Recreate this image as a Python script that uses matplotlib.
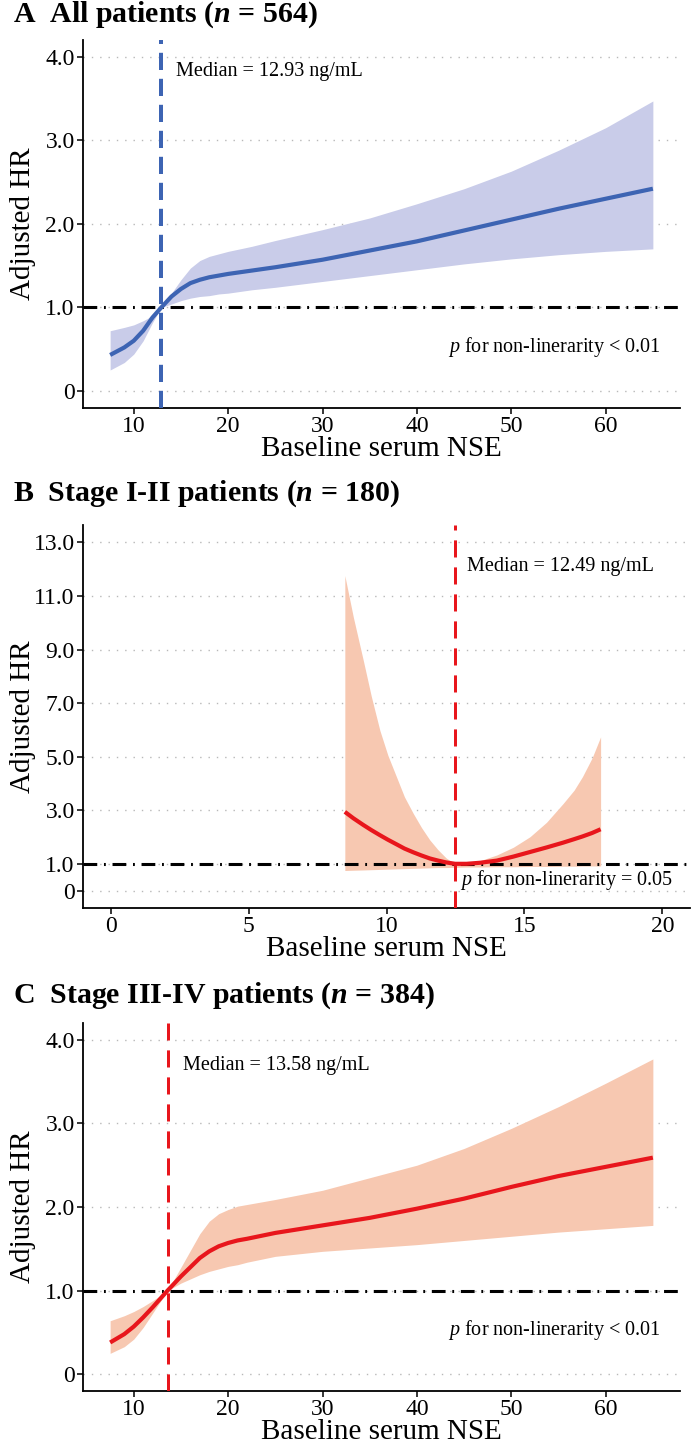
import matplotlib
matplotlib.use("Agg")
import matplotlib.pyplot as plt

plt.rcParams["font.family"] = ["Liberation Serif", "DejaVu Serif"]
plt.rcParams["mathtext.fontset"] = "custom"
plt.rcParams["mathtext.rm"] = "Liberation Serif"
plt.rcParams["mathtext.it"] = "Liberation Serif:italic"
plt.rcParams["mathtext.bf"] = "Liberation Serif:bold"
plt.rcParams["mathtext.bfit"] = "Liberation Serif:italic:bold"

# ---- data ----
# A: all patients
a_x = [7.5, 9, 10, 11, 11.5, 12, 12.93, 14, 15, 16, 17, 18, 19, 20, 22.5, 25, 30, 35, 40, 45, 50, 55, 60, 65]
a_est = [0.43, 0.52, 0.60, 0.72, 0.80, 0.88, 1.0, 1.13, 1.22, 1.29, 1.33, 1.36, 1.38, 1.40, 1.44, 1.48,
         1.57, 1.68, 1.79, 1.92, 2.05, 2.18, 2.30, 2.42]
a_lo = [0.25, 0.34, 0.44, 0.60, 0.71, 0.82, 1.0, 1.04, 1.08, 1.11, 1.13, 1.14, 1.16, 1.17, 1.21, 1.24,
        1.31, 1.38, 1.45, 1.52, 1.58, 1.63, 1.67, 1.70]
a_hi = [0.72, 0.76, 0.79, 0.84, 0.87, 0.92, 1.0, 1.17, 1.33, 1.47, 1.56, 1.61, 1.64, 1.67, 1.73, 1.80,
        1.93, 2.07, 2.24, 2.42, 2.63, 2.88, 3.15, 3.47]

# B: stage I-II
b_x = [8.49, 8.8, 9.16, 9.45, 9.76, 10.05, 10.36, 10.65, 10.97, 11.27, 11.57, 11.87, 12.17, 12.49,
       12.9, 13.4, 14.0, 14.6, 15.2, 15.8, 16.4, 16.8, 17.1, 17.45, 17.76]
b_est = [2.94, 2.70, 2.45, 2.26, 2.07, 1.90, 1.73, 1.57, 1.43, 1.31, 1.20, 1.12, 1.05, 1.0,
         1.0, 1.04, 1.12, 1.27, 1.44, 1.61, 1.79, 1.92, 2.02, 2.15, 2.29]
b_lo = [0.75, 0.76, 0.77, 0.78, 0.79, 0.80, 0.81, 0.82, 0.83, 0.84, 0.85, 0.86, 0.86, 0.87,
        0.88, 0.88, 0.89, 0.89, 0.90, 0.90, 0.91, 0.91, 0.92, 0.92, 0.92]
b_hi = [11.76, 10.2, 8.59, 7.25, 5.98, 5.05, 4.25, 3.50, 2.88, 2.35, 1.89, 1.52, 1.21, 1.0,
        1.04, 1.12, 1.33, 1.62, 2.01, 2.55, 3.25, 3.75, 4.25, 4.95, 5.74]

# C: stage III-IV
c_x = [7.5, 9, 10, 11, 12, 13.58, 15, 16, 17, 18, 19, 20, 21, 22, 25, 30, 35, 40, 45, 50, 55, 60, 65]
c_est = [0.38, 0.48, 0.57, 0.68, 0.80, 1.0, 1.17, 1.28, 1.39, 1.47, 1.53, 1.57, 1.60, 1.62, 1.69, 1.78,
         1.87, 1.98, 2.10, 2.24, 2.37, 2.48, 2.59]
c_lo = [0.25, 0.33, 0.42, 0.56, 0.73, 1.0, 1.09, 1.14, 1.19, 1.23, 1.26, 1.29, 1.31, 1.34, 1.41, 1.47,
        1.51, 1.55, 1.60, 1.65, 1.70, 1.74, 1.78]
c_hi = [0.64, 0.70, 0.75, 0.81, 0.88, 1.0, 1.28, 1.48, 1.68, 1.83, 1.92, 1.97, 2.01, 2.03, 2.09, 2.20,
        2.35, 2.50, 2.70, 2.94, 3.20, 3.48, 3.77]

titles = [r"A  All patients ($\mathbfit{n}$ = 564)",
          r"B  Stage I-II patients ($\mathbfit{n}$ = 180)",
          r"C  Stage III-IV patients ($\mathbfit{n}$ = 384)"]
medians = [12.93, 12.49, 13.58]
p_texts = [r"$p$ for non-linerarity < 0.01",
           r"$p$ for non-linerarity = 0.05",
           r"$p$ for non-linerarity < 0.01"]
yticks_ac = [0, 1, 2, 3, 4]
yticks_b = [0, 1, 3, 5, 7, 9, 11, 13]
xticks_ac = [10, 20, 30, 40, 50, 60]
xticks_b = [0, 5, 10, 15, 20]

BLUE = "#3d64b3"
BLUE_FILL = "#c9cce9"
RED = "#e8161c"
RED_FILL = "#f7c8b1"

W, H = 691, 1444
fig = plt.figure(figsize=(W / 100, H / 100), dpi=100)


def px_axes(left, top, right, bottom):
    return fig.add_axes([left / W, 1 - bottom / H, (right - left) / W, (bottom - top) / H])


def style(ax, top, bottom, xlim, ylim, xticks, yticks):
    ax.set_xlim(*xlim)
    ax.set_ylim(*ylim)
    ax.set_xticks(xticks)
    ax.set_xticklabels([str(t) for t in xticks])
    ax.set_yticks(yticks)
    ax.set_yticklabels(["0" if t == 0 else f"{t:.1f}" for t in yticks])
    for s in ["top", "right"]:
        ax.spines[s].set_visible(False)
    for s in ["left", "bottom"]:
        ax.spines[s].set_linewidth(1.3)
    ax.tick_params(labelsize=17, length=4, width=1.1, pad=2)
    ax.grid(axis="y", color="#b8b8b8", linewidth=1.0, linestyle=(0, (1, 5)))
    ax.set_axisbelow(True)
    ax.set_xlabel("Baseline serum NSE", fontsize=21, va="top")
    ax.set_ylabel("Adjusted HR", fontsize=21, va="center")
    h = bottom - top
    ax.xaxis.set_label_coords(0.5, -28 / h)
    ax.yaxis.set_label_coords(-60 / (ax.get_position().width * W), 0.5)


panels = [
    (a_x, a_est, a_lo, a_hi, BLUE, BLUE_FILL, BLUE, (83, 40, 680, 407.6), (4.625, 67.875), (-0.2, 4.2),
     xticks_ac, yticks_ac, 15, (14.5, 3.82), (65.9, 0.53), 4.0, (4.3, 2.2)),
    (b_x, b_est, b_lo, b_hi, RED, RED_FILL, RED, (83, 525, 690, 908), (-1, 21), (-0.65, 13.65),
     xticks_b, yticks_b, 494, (12.93, 12.1), (20.4, 0.4), 3.0, (5.7, 3.3)),
    (c_x, c_est, c_lo, c_hi, RED, RED_FILL, RED, (83, 1023, 680, 1391), (4.625, 67.875), (-0.2, 4.2),
     xticks_ac, yticks_ac, 996, (15.2, 3.69), (65.9, 0.53), 3.0, (5.7, 3.3)),
]

for i, (x, est, lo, hi, col, fill, mcol, box, xlim, ylim, xt, yt, ty, mpos, ppos, mlw, mdash) in enumerate(panels):
    left, top, right, bottom = box
    ax = px_axes(left, top, right, bottom)
    style(ax, top, bottom, xlim, ylim, xt, yt)
    ax.fill_between(x, lo, hi, color=fill, linewidth=0, zorder=1)
    ax.axhline(1.0, color="black", linewidth=2.2, dashes=(4.5, 2.2, 0.6, 2.2), zorder=2)
    ax.plot(x, est, color=col, linewidth=3.0, solid_capstyle="butt", solid_joinstyle="round", zorder=3)
    ax.axvline(medians[i], color=mcol, linewidth=mlw * 0.72, dashes=mdash, zorder=4)
    ax.text(mpos[0], mpos[1], f"Median = {medians[i]:.2f} ng/mL", fontsize=14.5, va="center", ha="left")
    ax.text(ppos[0], ppos[1], p_texts[i], fontsize=14.5, va="center", ha="right")
    fig.text(13 / W, 1 - ty / H, titles[i], fontsize=21.5, fontweight="bold", va="center", ha="left")

fig.savefig("out.png", dpi=100)
